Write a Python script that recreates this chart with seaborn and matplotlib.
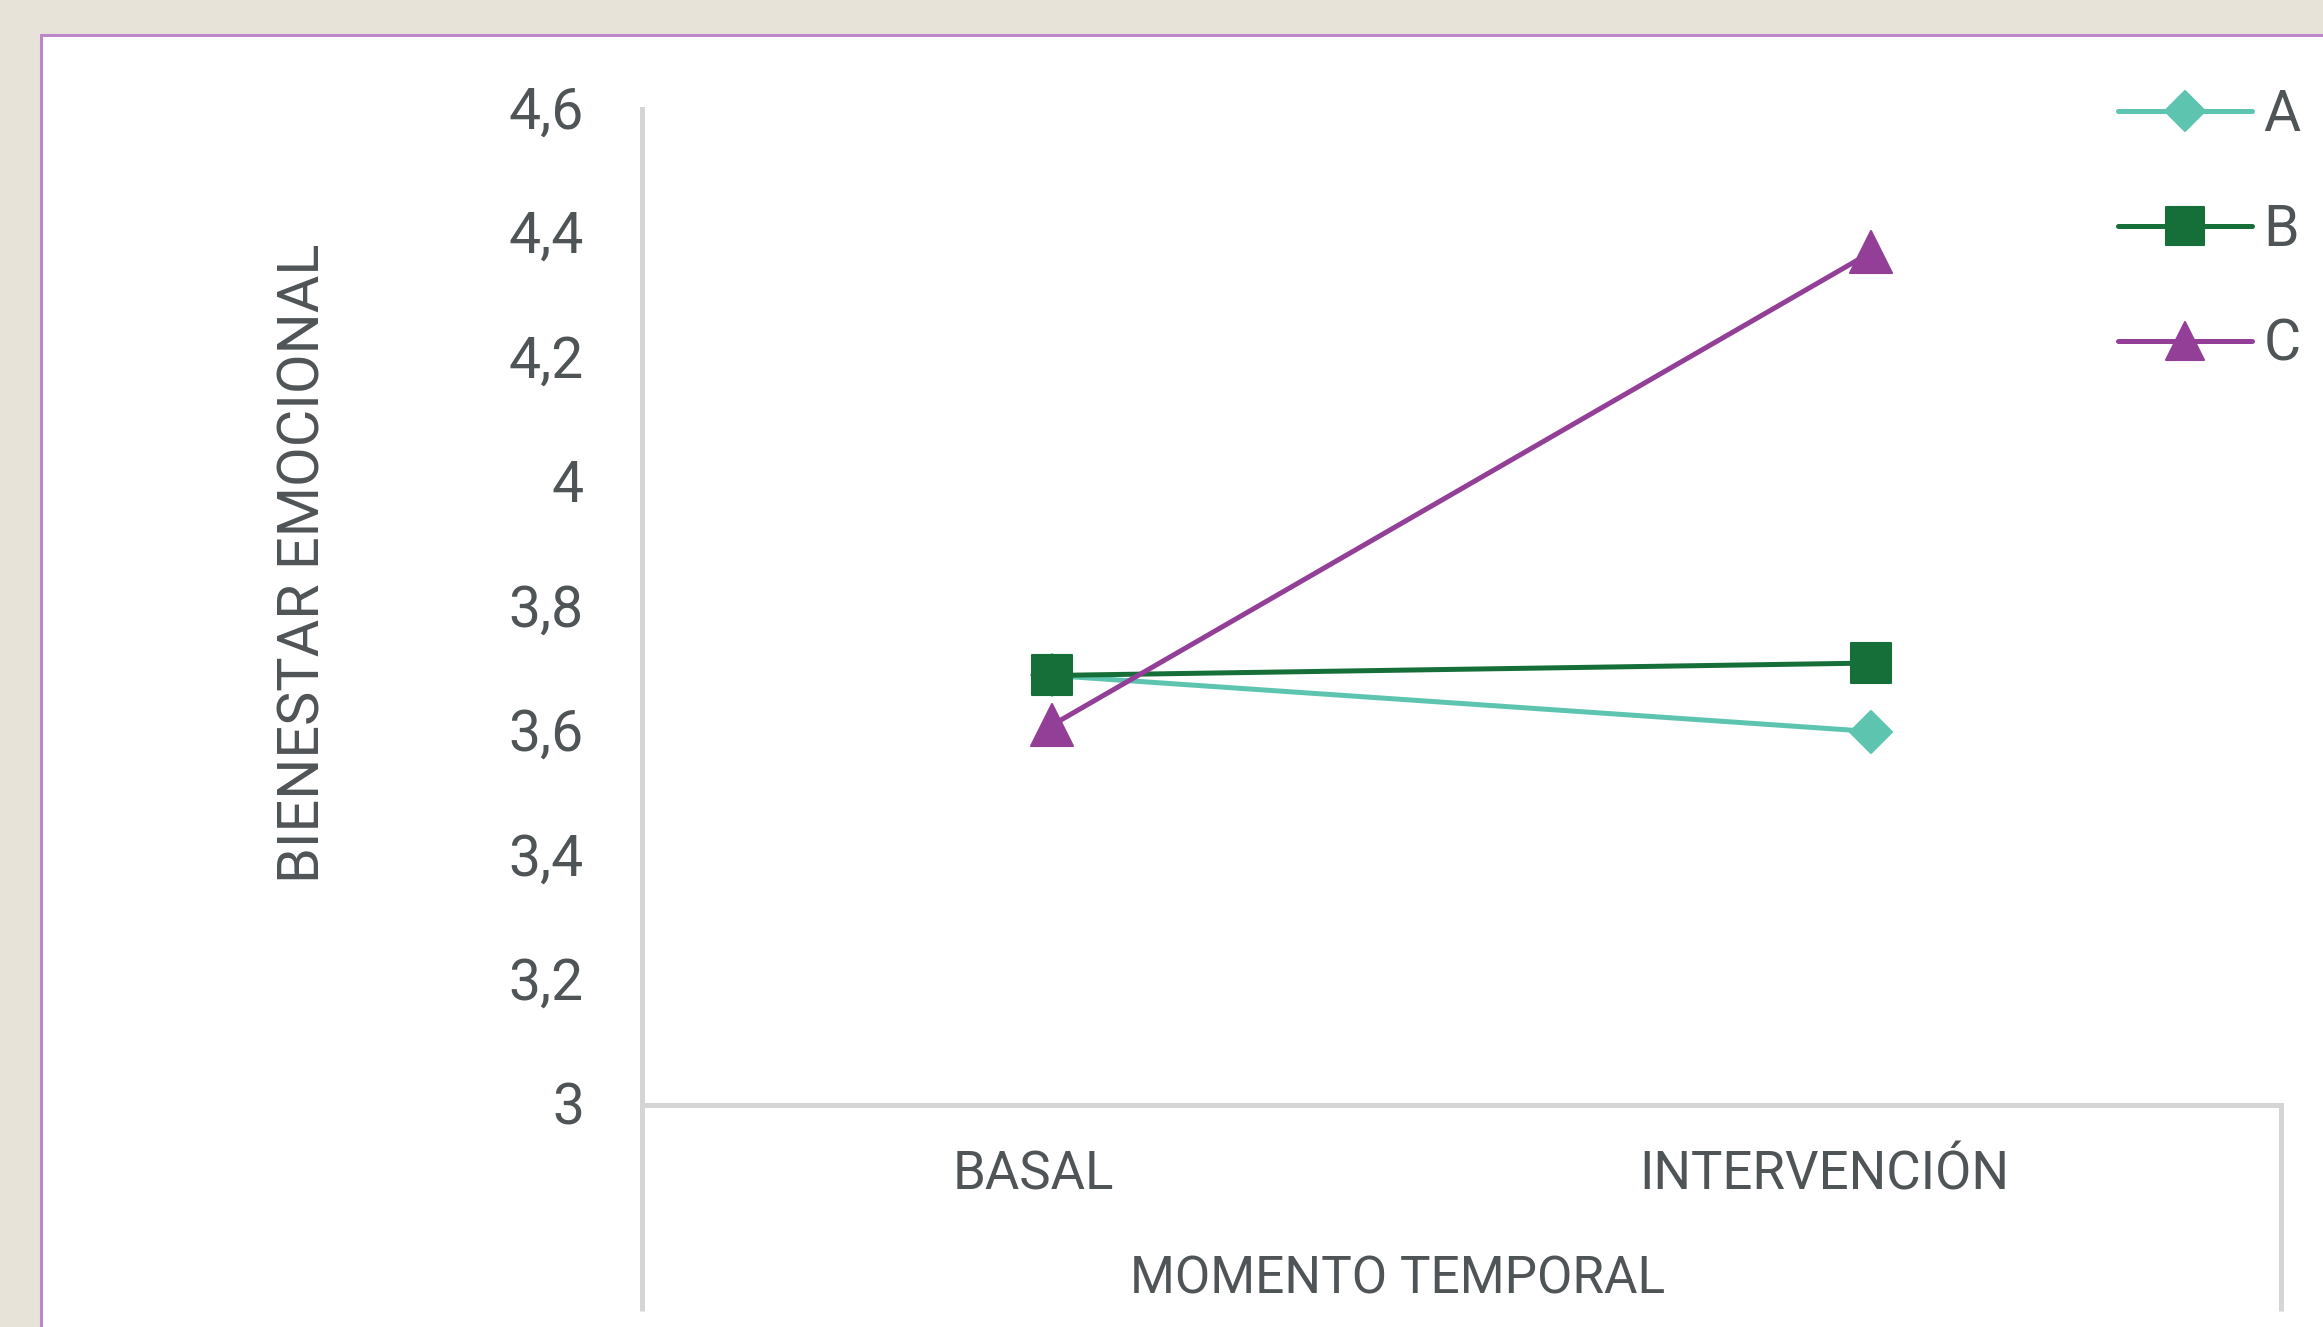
import numpy as np
import pandas as pd
import matplotlib
matplotlib.use("Agg")
import matplotlib.pyplot as plt
import seaborn as sns
from matplotlib.patches import Rectangle
from matplotlib.markers import MarkerStyle
from matplotlib.transforms import ScaledTranslation

# Datos
momentos = ["BASAL", "INTERVENCIÓN"]
grupos = ["A", "B", "C"]
valores_a = [3.69, 3.60]
valores_b = [3.69, 3.71]
valores_c = [3.61, 4.37]
y_ticks = [3.0, 3.2, 3.4, 3.6, 3.8, 4.0, 4.2, 4.4, 4.6]
y_tick_labels = ["3", "3,2", "3,4", "3,6", "3,8", "4", "4,2", "4,4", "4,6"]

series = {"A": valores_a, "B": valores_b, "C": valores_c}
colores = {"A": "#5DC4AF", "B": "#166E38", "C": "#933F97"}
marcadores = {"A": "D", "B": "s", "C": "^"}
tam_marcador = {"A": 21.5, "B": 29, "C": 30}

sns.set_theme(style="white")
plt.rcParams["font.family"] = ["Roboto", "DejaVu Sans"]

TEXTO = "#4F5456"
EJE = "#D5D5D5"
W, H = 2323, 1327

fig = plt.figure(figsize=(W / 100, H / 100), dpi=100, facecolor="#E7E3D9")

# Panel blanco con borde morado
fig.add_artist(Rectangle((41 / W, -0.1), 1.2, 1.1 - 35 / H,
                         transform=fig.transFigure, facecolor="white",
                         edgecolor="#BC86C8", linewidth=2.2, zorder=0))

ax = fig.add_axes([642 / W, 1 - 1105 / H, (2281 - 642) / W, (1105 - 109) / H])
ax.set_facecolor("none")

lineas = []
for g in grupos:
    sns.lineplot(x=momentos, y=series[g], color=colores[g],
                 marker=MarkerStyle(marcadores[g], joinstyle="round"),
                 markersize=tam_marcador[g], markeredgecolor=colores[g],
                 markeredgewidth=1.5, linewidth=3.6, sort=False, ax=ax)
    lineas.append(ax.lines[-1])

ax.set_xlim(-0.5, 1.5)
ax.set_ylim(3, 4.6)
ax.set_yticks(y_ticks, y_tick_labels)
ax.tick_params(axis="both", length=0, colors=TEXTO)
ax.tick_params(axis="y", labelsize=41, pad=41.8)
ax.tick_params(axis="x", labelsize=38, pad=61)

for lab in ax.get_yticklabels():
    lab.set_transform(lab.get_transform() +
                      ScaledTranslation(0, 2 / 100, fig.dpi_scale_trans))

desplaz = {"BASAL": -18, "INTERVENCIÓN": -47}
for lab in ax.get_xticklabels():
    lab.set_va("baseline")
    lab.set_transform(lab.get_transform() +
                      ScaledTranslation(desplaz[lab.get_text()] / 100, 0,
                                        fig.dpi_scale_trans))

for s in ["top", "right"]:
    ax.spines[s].set_visible(False)
for s in ["left", "bottom"]:
    ax.spines[s].set_color(EJE)
    ax.spines[s].set_linewidth(3.6)

# Prolongación de las líneas del eje de categorías
ext = -(1311 - 1105) / 996
ax.plot([0, 0], [0, ext], transform=ax.transAxes, clip_on=False,
        color=EJE, lw=3.6, solid_capstyle="butt")
ax.plot([1, 1], [0, ext], transform=ax.transAxes, clip_on=False,
        color=EJE, lw=3.6, solid_capstyle="butt")

ax.set_xlabel("MOMENTO TEMPORAL", fontsize=37, color=TEXTO, va="center")
ax.xaxis.set_label_coords((1398 - 642) / 1639, -(1279 - 1105) / 996)
ax.set_ylabel("BIENESTAR EMOCIONAL", fontsize=41.5, color=TEXTO, va="center")
ax.yaxis.set_label_coords((304 - 642) / 1639, (1105 - 563) / 996)

ax.legend(lineas, grupos, loc="upper left",
          bbox_to_anchor=(2118 / W, 1 - 88 / H), bbox_transform=fig.transFigure,
          frameon=False, fontsize=41, labelcolor=TEXTO, handlelength=2.35,
          handletextpad=0.2, labelspacing=1.05, borderpad=0, borderaxespad=0,
          markerscale=0.93)

fig.savefig("out.png", dpi=100, facecolor=fig.get_facecolor())
